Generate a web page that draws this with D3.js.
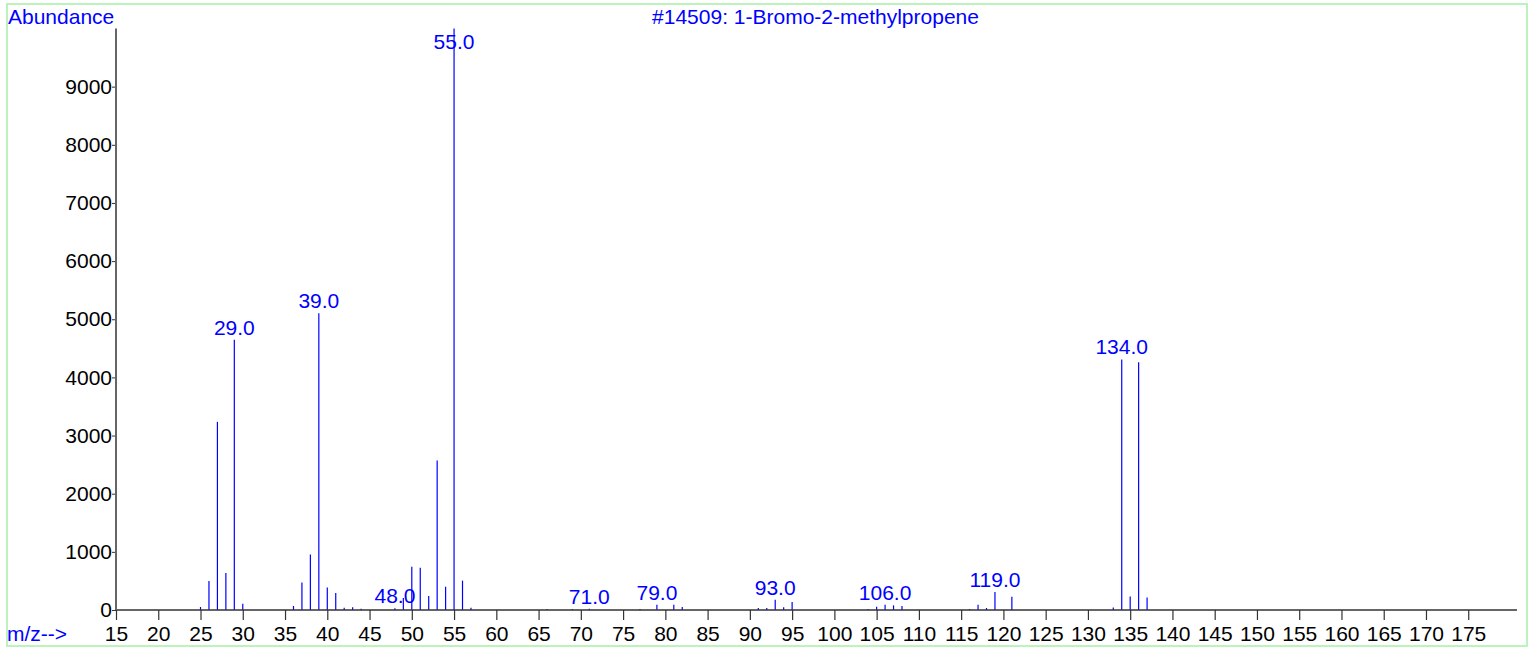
<!DOCTYPE html>
<html>
<head>
<meta charset="utf-8">
<script src="https://cdn.jsdelivr.net/npm/d3@7"></script>
<style>
  html, body { margin: 0; padding: 0; background: #fff; }
  svg { display: block; }
  text { font-family: "Liberation Sans", Arial, sans-serif; }
</style>
</head>
<body>
<svg id="chart" width="1529" height="650"></svg>
<script>
// ---- data ----
const title = "#14509: 1-Bromo-2-methylpropene";
const yTitle = "Abundance";
const xTitle = "m/z-->";
const mz = [25, 26, 27, 28, 29, 30, 36, 37, 38, 39, 40, 41, 42, 43, 44, 48, 49, 50, 51, 52, 53, 54, 55, 56, 57,
            66, 69, 71, 77, 79, 81, 82, 91, 92, 93, 94, 95, 104, 105, 106, 107, 108, 116, 117, 118, 119, 121,
            133, 134, 135, 136, 137];
const abundance = [52, 500, 3236, 637, 4647, 109, 69, 471, 955, 5105, 385, 293, 40, 46, 23, 30, 206, 745, 728, 241, 2570, 401, 9999, 505, 40,
            17, 17, 20, 17, 92, 92, 52, 34, 34, 178, 46, 138, 17, 57, 92, 80, 69, 17, 92, 34, 310, 230,
            45, 4308, 234, 4262, 217];
const labelledPeaks = [29, 39, 48, 55, 71, 79, 93, 106, 119, 134];
const xMajorTicks = d3.range(15, 181, 5);
const xLabelTicks = d3.range(15, 176, 5);
const xMinorTicks = d3.range(15, 181, 1);
const yMajorTicks = d3.range(0, 10000, 1000);
const yMinorTicks = d3.range(0, 10001, 200);

// ---- layout ----
const svg = d3.select("#chart");
const blue = "#0000ff";
const FS = 21;
const x = d3.scaleLinear().domain([15, 180]).range([116, 1510.5]);
const y = d3.scaleLinear().domain([0, 10000]).range([610, 28.5]);

// frame
svg.append("rect").attr("x", 7).attr("y", 4).attr("width", 1520).attr("height", 642)
  .attr("fill", "none").attr("stroke", "#a6f0a6").attr("stroke-width", 1.5);

// peaks
svg.append("g").selectAll("line").data(mz.map((m, i) => ({m, v: abundance[i]})))
  .join("line")
  .attr("x1", d => x(d.m)).attr("x2", d => x(d.m))
  .attr("y1", y(0)).attr("y2", d => y(d.v))
  .attr("stroke", blue).attr("stroke-width", 1.2);

// x axis
const gx = svg.append("g").attr("transform", `translate(0,${y(0)})`);
gx.call(d3.axisBottom(x).tickValues(xMinorTicks).tickSize(5).tickFormat(""));
gx.call(d3.axisBottom(x).tickValues(xMajorTicks).tickSize(10).tickFormat(""));
gx.call(d3.axisBottom(x).tickValues(xLabelTicks).tickSize(10).tickPadding(6).tickFormat(d3.format("d")));
gx.selectAll(".domain").remove();
gx.selectAll("line").attr("stroke", "#333").attr("stroke-width", 1.2);
gx.selectAll("text").attr("font-size", FS).attr("fill", "#000")
  .attr("font-family", "'Liberation Sans', Arial, sans-serif");
svg.append("line").attr("x1", 116).attr("x2", 1517).attr("y1", y(0)).attr("y2", y(0))
  .attr("stroke", "#333").attr("stroke-width", 1.5);

// y axis
const gy = svg.append("g").attr("transform", `translate(${x(15)},0)`);
gy.call(d3.axisLeft(y).tickValues(yMinorTicks).tickSize(3).tickFormat(""));
gy.call(d3.axisLeft(y).tickValues(yMajorTicks).tickSize(4).tickPadding(0).tickFormat(d3.format("d")));
gy.selectAll(".domain").remove();
gy.selectAll("line").attr("stroke", "#333");
gy.selectAll("text").attr("font-size", FS).attr("fill", "#000")
  .attr("font-family", "'Liberation Sans', Arial, sans-serif");
svg.append("line").attr("x1", x(15)).attr("x2", x(15)).attr("y1", y(0)).attr("y2", y(10000))
  .attr("stroke", "#666").attr("stroke-width", 2);

// peak labels
svg.append("g").selectAll("text")
  .data(labelledPeaks.map(m => ({m, v: abundance[mz.indexOf(m)]})))
  .join("text")
  .attr("x", d => x(d.m))
  .attr("y", d => Math.max(y(d.v) - 5, 49))
  .attr("text-anchor", "middle")
  .attr("font-size", FS).attr("fill", blue)
  .text(d => d3.format(".1f")(d.m));

// titles
svg.append("text").attr("x", 8).attr("y", 24).attr("font-size", FS).attr("fill", blue).text(yTitle);
svg.append("text").attr("x", 7).attr("y", 641).attr("font-size", FS).attr("fill", blue).text(xTitle);
svg.append("text").attr("x", 815.5).attr("y", 24).attr("text-anchor", "middle")
  .attr("font-size", FS).attr("fill", blue).text(title);
</script>
</body>
</html>
